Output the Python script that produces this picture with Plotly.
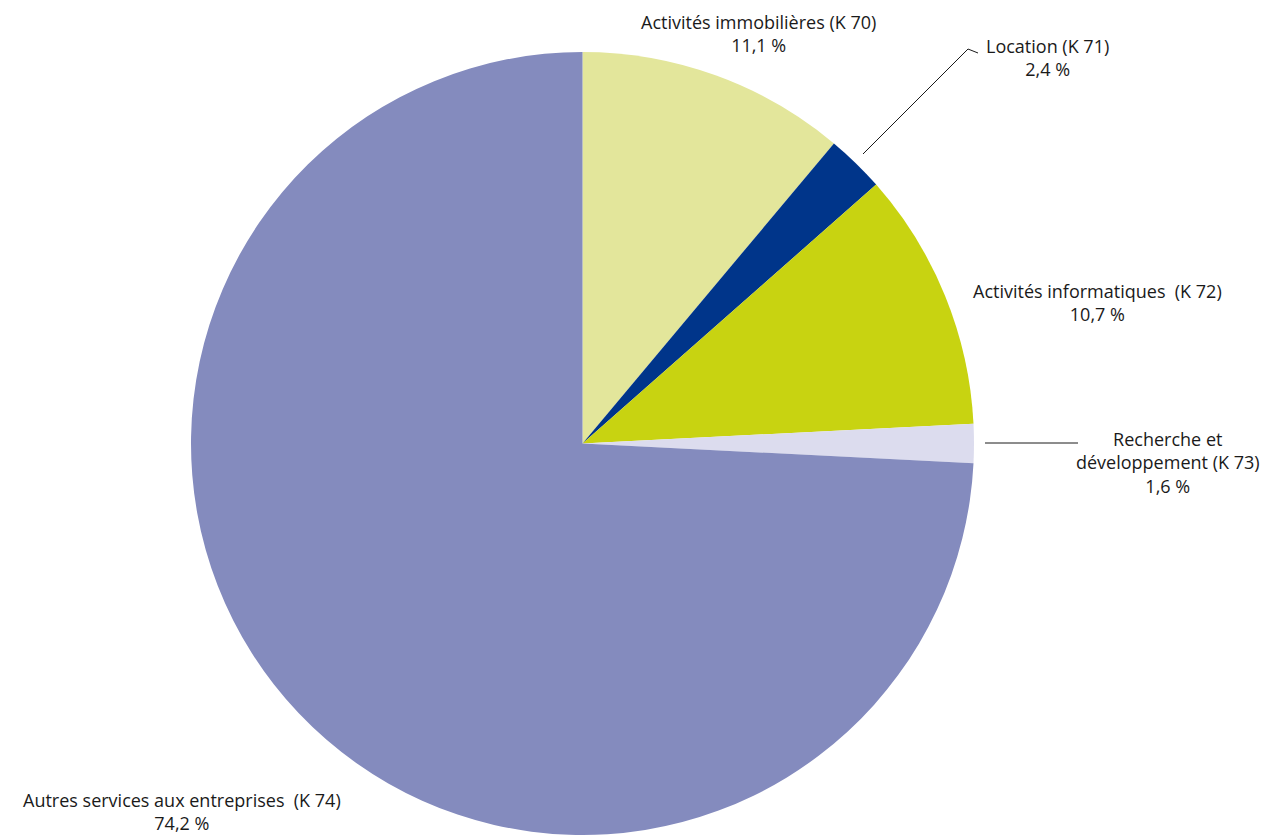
import plotly.graph_objects as go

W, H = 1282, 835

categories = [
    "Activités immobilières (K 70)",
    "Location (K 71)",
    "Activités informatiques  (K 72)",
    "Recherche et<br>développement (K 73)",
    "Autres services aux entreprises  (K 74)",
]
values = [11.1, 2.4, 10.7, 1.6, 74.2]
value_labels = ["11,1 %", "2,4 %", "10,7 %", "1,6 %", "74,2 %"]
colors = ["#E3E69B", "#00358A", "#C8D311", "#DCDCEE", "#848BBE"]

# label block centres (pixels)
label_pos = [(758, 33.5), (1047, 57.5), (1097, 302), (1168, 462.5), (182, 811)]

# pie geometry in pixels
cx, cy, r = 582.5, 443.5, 391.5


def px(x):
    return x / W


def py(y):
    return 1 - y / H


fig = go.Figure(
    go.Pie(
        labels=[c.replace("<br>", " ") for c in categories],
        values=values,
        sort=False,
        direction="clockwise",
        rotation=0,
        marker=dict(colors=colors, line=dict(width=0)),
        textinfo="none",
        hoverinfo="label+percent",
        showlegend=False,
        domain=dict(x=[px(cx - r), px(cx + r)], y=[py(cy + r), py(cy - r)]),
    )
)

FONT = dict(family="Open Sans, sans-serif", size=18, color="#1a1a1a")

annotations = []
for cat, val, (x, y) in zip(categories, value_labels, label_pos):
    annotations.append(
        dict(
            text=f"{cat}<br>{val}",
            x=px(x),
            y=py(y),
            xref="paper",
            yref="paper",
            xanchor="center",
            yanchor="middle",
            align="center",
            showarrow=False,
            font=FONT,
        )
    )

line_style = dict(color="#1a1a1a", width=1)
shapes = [
    dict(type="path", xref="paper", yref="paper",
         path=f"M {px(863)} {py(154)} L {px(968)} {py(49)} L {px(978)} {py(53)}",
         line=line_style),
    dict(type="line", xref="paper", yref="paper",
         x0=px(985), y0=py(443), x1=px(1078), y1=py(443), line=line_style),
]

fig.update_layout(
    width=W,
    height=H,
    margin=dict(l=0, r=0, t=0, b=0),
    paper_bgcolor="white",
    plot_bgcolor="white",
    annotations=annotations,
    shapes=shapes,
)

fig.write_html(
    "out.html",
    config={"displayModeBar": False},
    post_script="document.body.style.margin='0';document.body.style.overflow='hidden';",
)
